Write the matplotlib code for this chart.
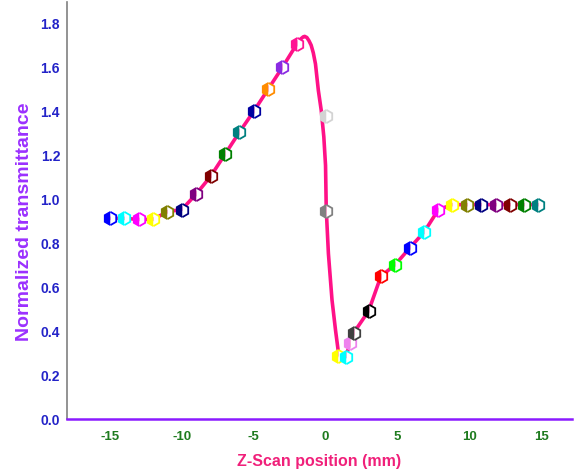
import matplotlib
matplotlib.use("Agg")
import matplotlib.pyplot as plt

# Marker data (Z position in mm, normalized transmittance)
z_points = [-15, -14, -13, -12, -11, -10, -9, -8, -7, -6, -5, -4, -3, -2,
            0, 0,
            0.9, 1.4, 1.7, 1.95, 3.0, 3.85, 4.85, 5.85, 6.85, 7.85, 8.8,
            9.85, 10.85, 11.85, 12.85, 13.8, 14.8]
t_points = [0.91, 0.91, 0.905, 0.905, 0.94, 0.95, 1.02, 1.10, 1.20, 1.30, 1.395, 1.495, 1.595, 1.70,
            1.375, 0.945,
            0.287, 0.282, 0.345, 0.39, 0.49, 0.647, 0.70, 0.775, 0.847, 0.949, 0.972,
            0.972, 0.972, 0.972, 0.972, 0.972, 0.972]
marker_colors = ['#0000ff', '#00ffff', '#ff00ff', '#ffff00', '#808000', '#000080', '#800080',
                 '#800000', '#008000', '#008080', '#0000a0', '#ff8c00', '#8a2be2', '#ff1493',
                 '#d3d3d3', '#808080',
                 '#ffff00', '#00ffff', '#ee82ee', '#404040', '#000000', '#ff0000', '#00ff00',
                 '#0000ff', '#00ffff', '#ff00ff', '#ffff00',
                 '#808000', '#000080', '#800080', '#800000', '#008000', '#008080']

# Fitted curve
line_z = [-15, -14, -13, -12, -11, -10, -9, -8, -7, -6, -5, -4, -3, -2,
          -1.75, -1.55, -1.45, -1.3, -1.15, -1.0, -0.85, -0.7, -0.5, -0.3, -0.12, 0.0, 0.05,
          0.2, 0.45, 0.7, 0.9, 1.1, 1.4, 1.7, 1.95, 3.0, 3.85, 4.85, 5.85, 6.85, 7.85, 8.8,
          9.85, 10.85, 11.85, 12.85, 13.8, 14.8]
line_t = [0.91, 0.91, 0.905, 0.905, 0.94, 0.95, 1.02, 1.10, 1.20, 1.30, 1.395, 1.495, 1.595, 1.70,
          1.722, 1.733, 1.735, 1.73, 1.715, 1.695, 1.66, 1.61, 1.49, 1.40, 1.28, 1.15, 0.95,
          0.75, 0.54, 0.40, 0.30, 0.275, 0.282, 0.34, 0.39, 0.49, 0.647, 0.70, 0.775, 0.847, 0.949, 0.972,
          0.972, 0.972, 0.972, 0.972, 0.972, 0.972]

x_ticks = [-15, -10, -5, 0, 5, 10, 15]
y_ticks = [0.0, 0.2, 0.4, 0.6, 0.8, 1.0, 1.2, 1.4, 1.6, 1.8]

plt.rcParams['font.family'] = ['Liberation Sans', 'DejaVu Sans']

fig = plt.figure(figsize=(5.74, 4.77), dpi=100)
ax = fig.add_axes([67 / 574, 57 / 477, (572 - 67) / 574, 417 / 477])

ax.plot(line_z, line_t, color='#ff1187', lw=2.6, zorder=2, solid_joinstyle='round')
for z, t, c in zip(z_points, t_points, marker_colors):
    ax.plot([z], [t], marker='h', markersize=9.5, fillstyle='left',
            markerfacecolor=c, markerfacecoloralt='white', markeredgecolor=c,
            markeredgewidth=1.3, linestyle='none', zorder=3)

ax.set_xlim(-17.99, 17.15)
ax.set_ylim(0, 1.891)
ax.set_xticks(x_ticks)
ax.set_xticklabels([str(v) for v in x_ticks])
ax.set_yticks(y_ticks)
ax.set_yticklabels([f"{v:.1f}" for v in y_ticks])
ax.tick_params(axis='both', length=0)
ax.tick_params(axis='x', pad=8, labelsize=9.5, labelcolor='#1e7b1e')
ax.tick_params(axis='y', pad=5, labelsize=10, labelcolor='#2323c8')
for lab in ax.get_xticklabels() + ax.get_yticklabels():
    lab.set_fontweight('bold')

ax.spines['top'].set_visible(False)
ax.spines['right'].set_visible(False)
ax.spines['left'].set_color('#808080')
ax.spines['left'].set_linewidth(1.2)
ax.spines['bottom'].set_color('#8b1aff')
ax.spines['bottom'].set_linewidth(1.8)

ax.set_xlabel('Z-Scan position (mm)', fontsize=11.5, fontweight='bold', color='#f0207a', labelpad=8)
ax.set_ylabel('Normalized transmittance', fontsize=14, fontweight='bold', color='#9b30ff', labelpad=8)
ax.yaxis.set_label_coords(-0.068, 0.475)

fig.savefig('out.png', dpi=100)
